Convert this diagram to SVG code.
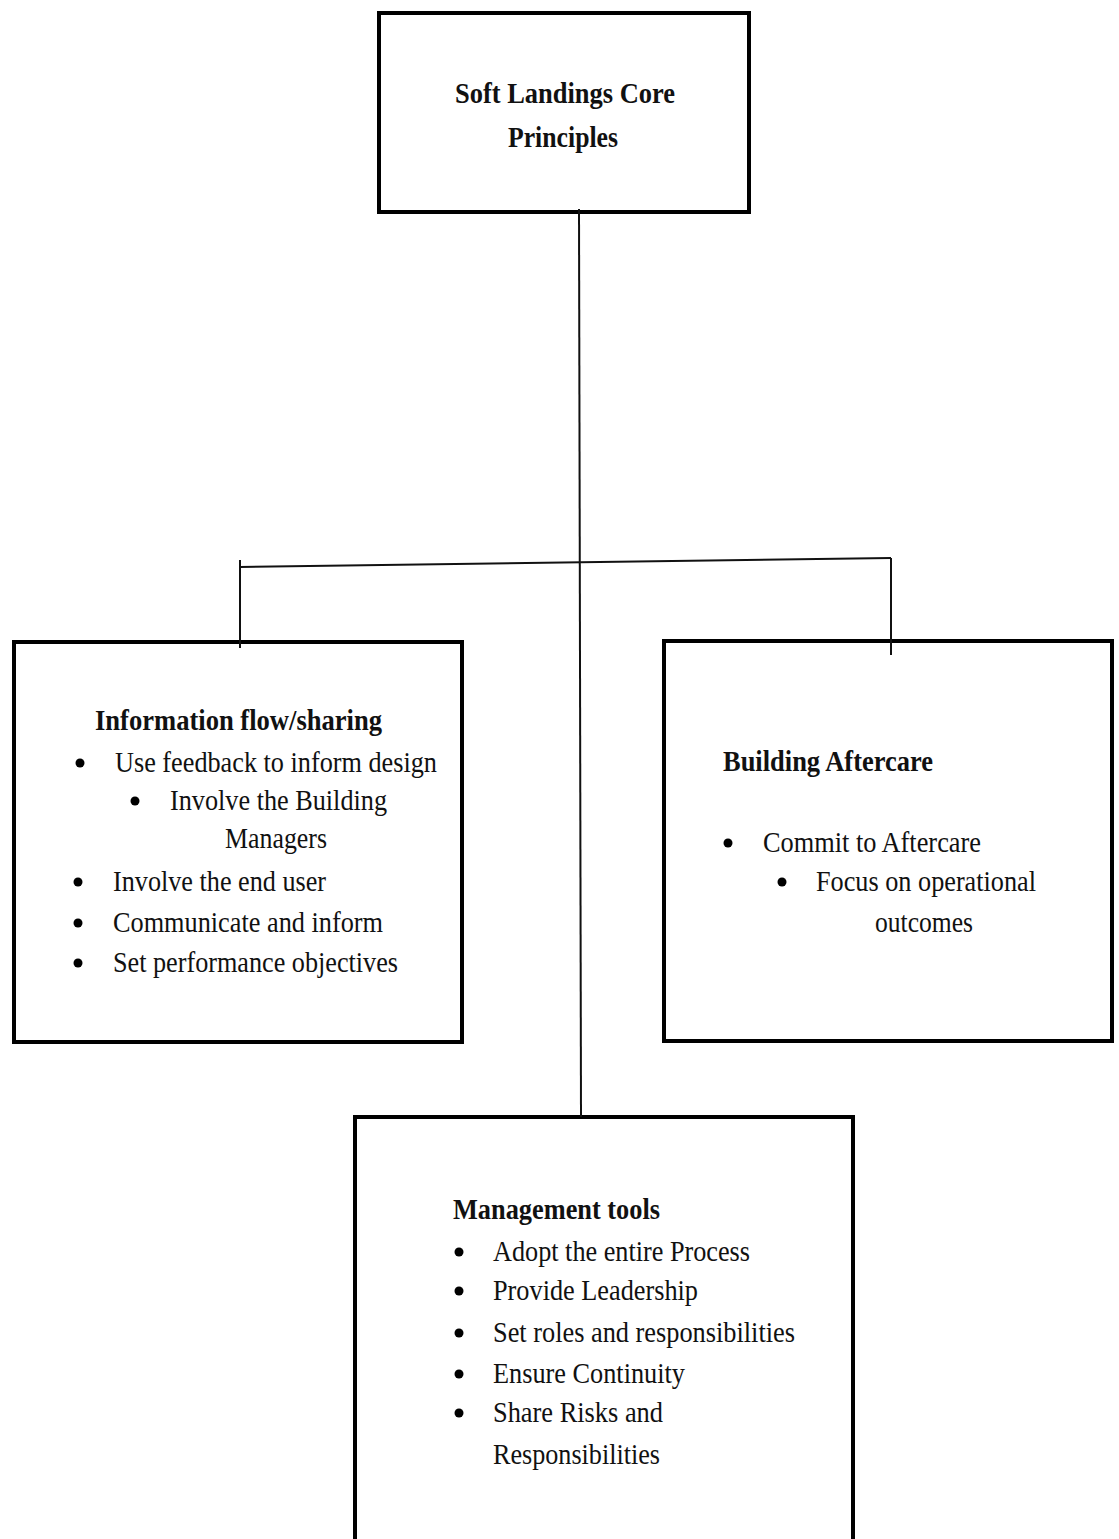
<svg xmlns="http://www.w3.org/2000/svg" width="1119" height="1539" viewBox="0 0 1119 1539">
  <style>
    .box { fill: #ffffff; stroke: #000000; stroke-width: 4; }
    .wire { fill: none; stroke: #111111; stroke-width: 2; }
    .t { font-family: "Liberation Serif", "Times New Roman", serif; font-size: 29px; fill: #111111; }
    .h { font-weight: bold; }
    .dot { fill: #000000; }
  </style>
  <rect width="1119" height="1539" fill="#ffffff"/>

  <!-- top node -->
  <g id="core">
    <rect class="box" x="379" y="13" width="370" height="199"/>
    <text class="t h" x="455" y="103" textLength="220" lengthAdjust="spacingAndGlyphs">Soft Landings Core</text>
    <text class="t h" x="508" y="147" textLength="110" lengthAdjust="spacingAndGlyphs">Principles</text>
  </g>

  <!-- left node -->
  <g id="information">
    <rect class="box" x="14" y="642" width="448" height="400"/>
    <text class="t h" x="95" y="730" textLength="287" lengthAdjust="spacingAndGlyphs">Information flow/sharing</text>
    <circle class="dot" cx="80" cy="763" r="4.5"/>
    <text class="t" x="115" y="772" textLength="322" lengthAdjust="spacingAndGlyphs">Use feedback to inform design</text>
    <circle class="dot" cx="135" cy="801" r="4.5"/>
    <text class="t" x="170" y="810" textLength="217" lengthAdjust="spacingAndGlyphs">Involve the Building</text>
    <text class="t" x="225" y="848" textLength="102" lengthAdjust="spacingAndGlyphs">Managers</text>
    <circle class="dot" cx="78" cy="882" r="4.5"/>
    <text class="t" x="113" y="891" textLength="213" lengthAdjust="spacingAndGlyphs">Involve the end user</text>
    <circle class="dot" cx="78" cy="923" r="4.5"/>
    <text class="t" x="113" y="932" textLength="270" lengthAdjust="spacingAndGlyphs">Communicate and inform</text>
    <circle class="dot" cx="78" cy="963" r="4.5"/>
    <text class="t" x="113" y="972" textLength="285" lengthAdjust="spacingAndGlyphs">Set performance objectives</text>
  </g>

  <!-- right node -->
  <g id="aftercare">
    <rect class="box" x="664" y="641" width="448" height="400"/>
    <text class="t h" x="723" y="771" textLength="210" lengthAdjust="spacingAndGlyphs">Building Aftercare</text>
    <circle class="dot" cx="728" cy="843" r="4.5"/>
    <text class="t" x="763" y="852" textLength="218" lengthAdjust="spacingAndGlyphs">Commit to Aftercare</text>
    <circle class="dot" cx="782" cy="882" r="4.5"/>
    <text class="t" x="816" y="891" textLength="220" lengthAdjust="spacingAndGlyphs">Focus on operational</text>
    <text class="t" x="875" y="932" textLength="98" lengthAdjust="spacingAndGlyphs">outcomes</text>
  </g>

  <!-- bottom node -->
  <g id="management">
    <rect class="box" x="355" y="1117" width="498" height="440"/>
    <text class="t h" x="453" y="1219" textLength="207" lengthAdjust="spacingAndGlyphs">Management tools</text>
    <circle class="dot" cx="459" cy="1252" r="4.5"/>
    <text class="t" x="493" y="1261" textLength="257" lengthAdjust="spacingAndGlyphs">Adopt the entire Process</text>
    <circle class="dot" cx="459" cy="1291" r="4.5"/>
    <text class="t" x="493" y="1300" textLength="205" lengthAdjust="spacingAndGlyphs">Provide Leadership</text>
    <circle class="dot" cx="459" cy="1333" r="4.5"/>
    <text class="t" x="493" y="1342" textLength="302" lengthAdjust="spacingAndGlyphs">Set roles and responsibilities</text>
    <circle class="dot" cx="459" cy="1374" r="4.5"/>
    <text class="t" x="493" y="1383" textLength="192" lengthAdjust="spacingAndGlyphs">Ensure Continuity</text>
    <circle class="dot" cx="459" cy="1413" r="4.5"/>
    <text class="t" x="493" y="1422" textLength="170" lengthAdjust="spacingAndGlyphs">Share Risks and</text>
    <text class="t" x="493" y="1464" textLength="167" lengthAdjust="spacingAndGlyphs">Responsibilities</text>
  </g>

  <!-- connectors, drawn last so their short overshoots past the box edges stay visible -->
  <g id="connectors">
    <path class="wire" d="M579 209 L581 1117" stroke="#333333"/>
    <path class="wire" d="M240 567 L891 558"/>
    <path class="wire" d="M240 560 L240 648"/>
    <path class="wire" d="M891 558 L891 655"/>
  </g>
</svg>
